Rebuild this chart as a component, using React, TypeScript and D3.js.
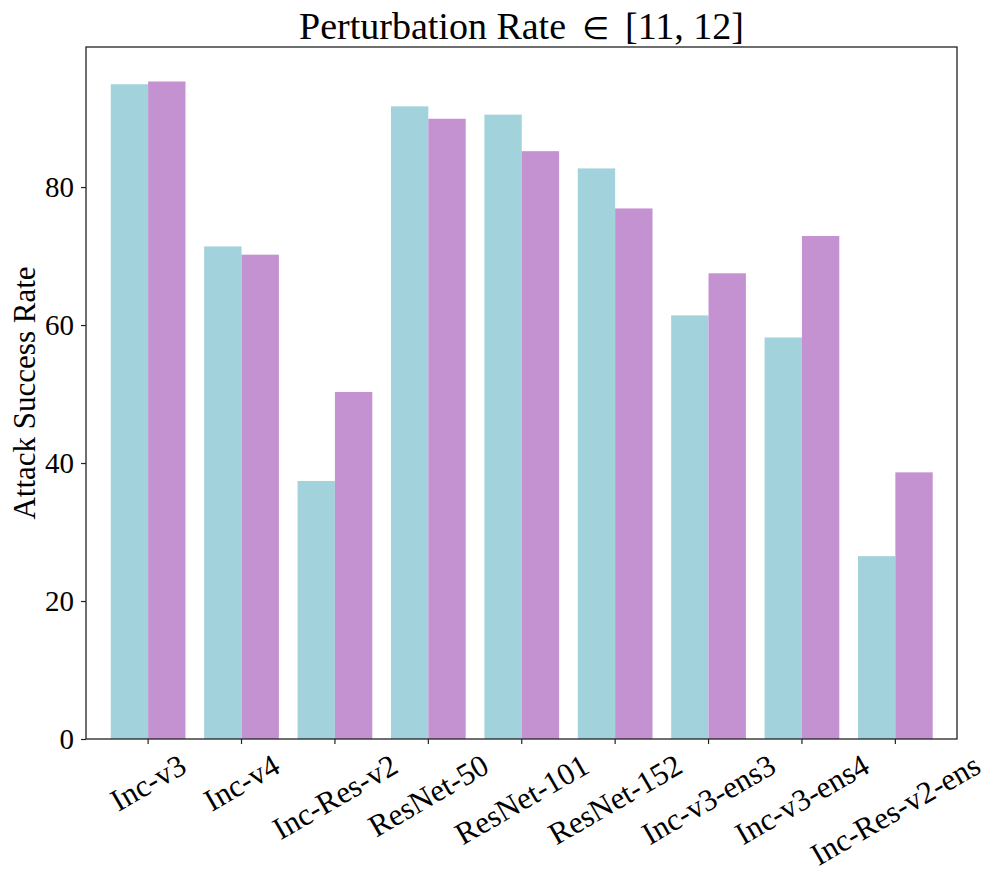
import * as d3 from "d3";
import React, { useEffect, useRef } from "react";

const categories = [
  "Inc-v3",
  "Inc-v4",
  "Inc-Res-v2",
  "ResNet-50",
  "ResNet-101",
  "ResNet-152",
  "Inc-v3-ens3",
  "Inc-v3-ens4",
  "Inc-Res-v2-ens",
];
const seriesA = [94.9, 71.4, 37.4, 91.7, 90.5, 82.7, 61.4, 58.2, 26.5];
const seriesB = [95.3, 70.2, 50.3, 89.9, 85.2, 76.9, 67.5, 72.9, 38.65];
const yTicks = [0, 20, 40, 60, 80];

const App: React.FC = () => {
  const svgRef = useRef<SVGSVGElement | null>(null);

  useEffect(() => {
    const width = 997;
    const height = 881;
    const margin = { top: 47, right: 40, bottom: 142, left: 86 };
    const font = "'Liberation Serif', 'Times New Roman', serif";

    const svg = d3.select(svgRef.current);
    svg.selectAll("*").remove();
    svg.attr("width", width).attr("height", height);

    const x = d3.scaleLinear().domain([-0.665, 8.66]).range([margin.left, width - margin.right]);
    const y = d3.scaleLinear().domain([0, 100.3]).range([height - margin.bottom, margin.top]);
    const barW = x(0.4) - x(0);

    // bars
    const g = svg.append("g");
    g.selectAll(".barA")
      .data(seriesA)
      .enter()
      .append("rect")
      .attr("x", (_, i) => x(i - 0.4))
      .attr("y", (d) => y(d))
      .attr("width", barW)
      .attr("height", (d) => y(0) - y(d))
      .attr("fill", "#a2d2dc");

    g.selectAll(".barB")
      .data(seriesB)
      .enter()
      .append("rect")
      .attr("x", (_, i) => x(i))
      .attr("y", (d) => y(d))
      .attr("width", barW)
      .attr("height", (d) => y(0) - y(d))
      .attr("fill", "#c491d1");

    // frame
    svg
      .append("rect")
      .attr("x", x(-0.665))
      .attr("y", y(100.3))
      .attr("width", x(8.66) - x(-0.665))
      .attr("height", y(0) - y(100.3))
      .attr("fill", "none")
      .attr("stroke", "#222")
      .attr("stroke-width", 1.3);

    // y axis
    const yAxis = svg
      .append("g")
      .attr("transform", `translate(${x(-0.665)},0)`)
      .call(d3.axisLeft(y).tickValues(yTicks).tickSize(5).tickPadding(7));
    yAxis.select(".domain").remove();
    yAxis.selectAll("line").attr("stroke", "#222").attr("stroke-width", 1.2);
    yAxis
      .selectAll("text")
      .attr("font-family", font)
      .attr("font-size", 29)
      .attr("fill", "#000");

    // x ticks
    const xAxis = svg.append("g").attr("transform", `translate(0,${y(0)})`);
    xAxis
      .selectAll("line")
      .data(categories)
      .enter()
      .append("line")
      .attr("x1", (_, i) => x(i))
      .attr("x2", (_, i) => x(i))
      .attr("y1", 0)
      .attr("y2", 5)
      .attr("stroke", "#222")
      .attr("stroke-width", 1.2);

    const angle = 30;
    const rad = (angle * Math.PI) / 180;
    xAxis
      .selectAll("text")
      .data(categories)
      .enter()
      .append("text")
      .attr("font-family", font)
      .attr("font-size", 31)
      .attr("fill", "#000")
      .attr("text-anchor", "middle")
      .attr("dominant-baseline", "central")
      .text((d) => d)
      .each(function (_, i) {
        const el = this as SVGTextElement;
        const w = el.getComputedTextLength();
        const h = 24;
        const H = w * Math.sin(rad) + h * Math.cos(rad);
        d3.select(el).attr(
          "transform",
          `translate(${x(i)},${13 + H / 2}) rotate(${-angle})`
        );
      });

    // y label
    svg
      .append("text")
      .attr("transform", `translate(35,${(y(0) + y(100.3)) / 2}) rotate(-90)`)
      .attr("text-anchor", "middle")
      .attr("font-family", font)
      .attr("font-size", 31)
      .attr("fill", "#000")
      .text("Attack Success Rate");

    // title
    const title = svg
      .append("text")
      .attr("x", (x(-0.665) + x(8.66)) / 2)
      .attr("y", 39)
      .attr("text-anchor", "middle")
      .attr("font-family", font)
      .attr("font-size", 38)
      .attr("fill", "#000");
    title.append("tspan").text("Perturbation Rate");
    title
      .append("tspan")
      .attr("dx", 16)
      .attr("font-family", "'DejaVu Sans', sans-serif")
      .attr("font-size", 31)
      .text("\u2208");
    title.append("tspan").attr("dx", 16).text("[11, 12]");
  }, []);

  return (
    <div style={{ position: "absolute", left: 0, top: 0 }}>
      <svg ref={svgRef} style={{ display: "block" }}></svg>
    </div>
  );
};

export default App;
